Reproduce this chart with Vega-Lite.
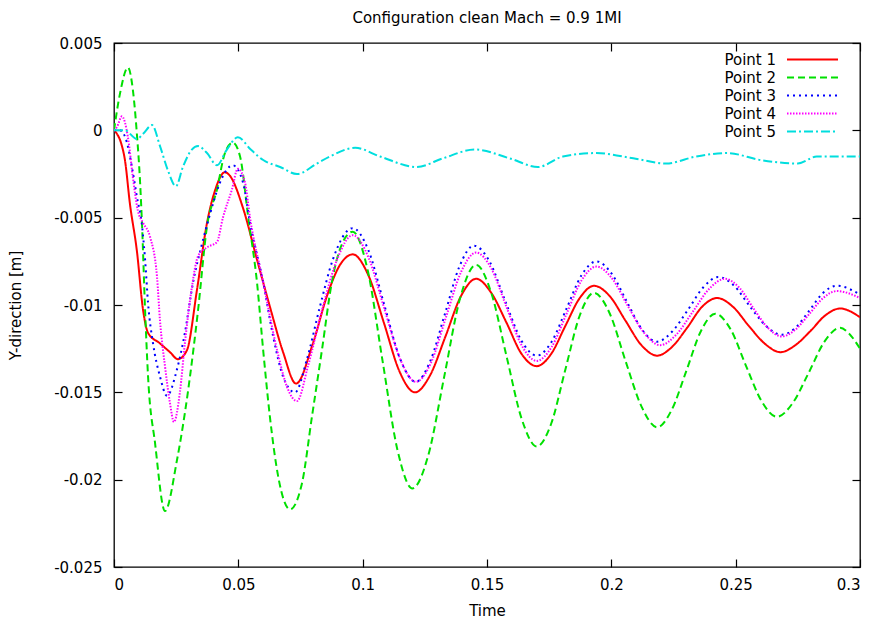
{
  "$schema": "https://vega.github.io/schema/vega-lite/v6.json",
  "width": 746,
  "height": 524,
  "autosize": "none",
  "padding": {"left": 114, "top": 43, "right": 15, "bottom": 51},
  "background": "#ffffff",
  "title": {
    "text": "Configuration clean Mach = 0.9 1MI",
    "font": "DejaVu Sans",
    "fontSize": 15,
    "fontWeight": "normal",
    "color": "#000000",
    "anchor": "middle",
    "frame": "group",
    "baseline": "alphabetic",
    "offset": -2
  },
  "data": {
    "values": [
      {"point": "Point 1", "t": 0, "y": 0},
      {"point": "Point 1", "t": 0.0012, "y": -0.0002},
      {"point": "Point 1", "t": 0.003, "y": -0.0008},
      {"point": "Point 1", "t": 0.0044, "y": -0.0017},
      {"point": "Point 1", "t": 0.0064, "y": -0.0042},
      {"point": "Point 1", "t": 0.0092, "y": -0.0069},
      {"point": "Point 1", "t": 0.0117, "y": -0.0103},
      {"point": "Point 1", "t": 0.0137, "y": -0.0116},
      {"point": "Point 1", "t": 0.0185, "y": -0.0122},
      {"point": "Point 1", "t": 0.0225, "y": -0.0127},
      {"point": "Point 1", "t": 0.0257, "y": -0.0131},
      {"point": "Point 1", "t": 0.0293, "y": -0.0126},
      {"point": "Point 1", "t": 0.0334, "y": -0.0091},
      {"point": "Point 1", "t": 0.0374, "y": -0.0053},
      {"point": "Point 1", "t": 0.0405, "y": -0.0035},
      {"point": "Point 1", "t": 0.0446, "y": -0.0024},
      {"point": "Point 1", "t": 0.0466, "y": -0.0026},
      {"point": "Point 1", "t": 0.052, "y": -0.0045},
      {"point": "Point 1", "t": 0.0575, "y": -0.0074},
      {"point": "Point 1", "t": 0.0627, "y": -0.0101},
      {"point": "Point 1", "t": 0.068, "y": -0.0127},
      {"point": "Point 1", "t": 0.0732, "y": -0.0145},
      {"point": "Point 1", "t": 0.08, "y": -0.0122},
      {"point": "Point 1", "t": 0.0856, "y": -0.0095},
      {"point": "Point 1", "t": 0.0909, "y": -0.0077},
      {"point": "Point 1", "t": 0.096, "y": -0.0071},
      {"point": "Point 1", "t": 0.1023, "y": -0.0083},
      {"point": "Point 1", "t": 0.1085, "y": -0.011},
      {"point": "Point 1", "t": 0.1148, "y": -0.0138},
      {"point": "Point 1", "t": 0.121, "y": -0.015},
      {"point": "Point 1", "t": 0.1272, "y": -0.014},
      {"point": "Point 1", "t": 0.1333, "y": -0.0118},
      {"point": "Point 1", "t": 0.1395, "y": -0.0095},
      {"point": "Point 1", "t": 0.1456, "y": -0.0085},
      {"point": "Point 1", "t": 0.1517, "y": -0.0093},
      {"point": "Point 1", "t": 0.1578, "y": -0.011},
      {"point": "Point 1", "t": 0.1639, "y": -0.0128},
      {"point": "Point 1", "t": 0.17, "y": -0.0135},
      {"point": "Point 1", "t": 0.1758, "y": -0.0128},
      {"point": "Point 1", "t": 0.1815, "y": -0.0112},
      {"point": "Point 1", "t": 0.1873, "y": -0.0096},
      {"point": "Point 1", "t": 0.193, "y": -0.0089},
      {"point": "Point 1", "t": 0.1994, "y": -0.0095},
      {"point": "Point 1", "t": 0.2057, "y": -0.0109},
      {"point": "Point 1", "t": 0.2121, "y": -0.0123},
      {"point": "Point 1", "t": 0.2184, "y": -0.0129},
      {"point": "Point 1", "t": 0.2244, "y": -0.0124},
      {"point": "Point 1", "t": 0.2305, "y": -0.0113},
      {"point": "Point 1", "t": 0.2365, "y": -0.0101},
      {"point": "Point 1", "t": 0.2425, "y": -0.0096},
      {"point": "Point 1", "t": 0.2489, "y": -0.0101},
      {"point": "Point 1", "t": 0.2553, "y": -0.0112},
      {"point": "Point 1", "t": 0.2616, "y": -0.0122},
      {"point": "Point 1", "t": 0.268, "y": -0.0127},
      {"point": "Point 1", "t": 0.274, "y": -0.0123},
      {"point": "Point 1", "t": 0.28, "y": -0.0115},
      {"point": "Point 1", "t": 0.286, "y": -0.0106},
      {"point": "Point 1", "t": 0.292, "y": -0.0102},
      {"point": "Point 1", "t": 0.3, "y": -0.0107},

      {"point": "Point 2", "t": 0, "y": 0},
      {"point": "Point 2", "t": 0.0024, "y": 0.0021},
      {"point": "Point 2", "t": 0.0056, "y": 0.0036},
      {"point": "Point 2", "t": 0.0076, "y": 0.0023},
      {"point": "Point 2", "t": 0.0092, "y": -0.0002},
      {"point": "Point 2", "t": 0.0105, "y": -0.003},
      {"point": "Point 2", "t": 0.0113, "y": -0.0055},
      {"point": "Point 2", "t": 0.0125, "y": -0.0103},
      {"point": "Point 2", "t": 0.0137, "y": -0.0141},
      {"point": "Point 2", "t": 0.0165, "y": -0.0179},
      {"point": "Point 2", "t": 0.0205, "y": -0.0218},
      {"point": "Point 2", "t": 0.0253, "y": -0.0189},
      {"point": "Point 2", "t": 0.0297, "y": -0.015},
      {"point": "Point 2", "t": 0.0338, "y": -0.0103},
      {"point": "Point 2", "t": 0.0374, "y": -0.0055},
      {"point": "Point 2", "t": 0.0414, "y": -0.0034},
      {"point": "Point 2", "t": 0.0446, "y": -0.0013},
      {"point": "Point 2", "t": 0.0478, "y": -0.0007},
      {"point": "Point 2", "t": 0.0507, "y": -0.0015},
      {"point": "Point 2", "t": 0.054, "y": -0.005},
      {"point": "Point 2", "t": 0.0575, "y": -0.0087},
      {"point": "Point 2", "t": 0.06, "y": -0.0126},
      {"point": "Point 2", "t": 0.0627, "y": -0.0164},
      {"point": "Point 2", "t": 0.066, "y": -0.0198},
      {"point": "Point 2", "t": 0.0708, "y": -0.0217},
      {"point": "Point 2", "t": 0.0756, "y": -0.0202},
      {"point": "Point 2", "t": 0.0796, "y": -0.0164},
      {"point": "Point 2", "t": 0.0836, "y": -0.0126},
      {"point": "Point 2", "t": 0.0876, "y": -0.0087},
      {"point": "Point 2", "t": 0.0917, "y": -0.0065},
      {"point": "Point 2", "t": 0.096, "y": -0.0058},
      {"point": "Point 2", "t": 0.102, "y": -0.008},
      {"point": "Point 2", "t": 0.108, "y": -0.0132},
      {"point": "Point 2", "t": 0.114, "y": -0.0183},
      {"point": "Point 2", "t": 0.12, "y": -0.0205},
      {"point": "Point 2", "t": 0.1264, "y": -0.0186},
      {"point": "Point 2", "t": 0.1328, "y": -0.0141},
      {"point": "Point 2", "t": 0.1392, "y": -0.0096},
      {"point": "Point 2", "t": 0.1456, "y": -0.0077},
      {"point": "Point 2", "t": 0.1517, "y": -0.0093},
      {"point": "Point 2", "t": 0.1578, "y": -0.0129},
      {"point": "Point 2", "t": 0.1639, "y": -0.0165},
      {"point": "Point 2", "t": 0.17, "y": -0.0181},
      {"point": "Point 2", "t": 0.1758, "y": -0.0168},
      {"point": "Point 2", "t": 0.1815, "y": -0.0137},
      {"point": "Point 2", "t": 0.1873, "y": -0.0106},
      {"point": "Point 2", "t": 0.193, "y": -0.0093},
      {"point": "Point 2", "t": 0.1994, "y": -0.0105},
      {"point": "Point 2", "t": 0.2057, "y": -0.0132},
      {"point": "Point 2", "t": 0.2121, "y": -0.0158},
      {"point": "Point 2", "t": 0.2184, "y": -0.017},
      {"point": "Point 2", "t": 0.2243, "y": -0.016},
      {"point": "Point 2", "t": 0.2301, "y": -0.0138},
      {"point": "Point 2", "t": 0.236, "y": -0.0115},
      {"point": "Point 2", "t": 0.2418, "y": -0.0105},
      {"point": "Point 2", "t": 0.248, "y": -0.0114},
      {"point": "Point 2", "t": 0.2542, "y": -0.0135},
      {"point": "Point 2", "t": 0.2604, "y": -0.0155},
      {"point": "Point 2", "t": 0.2666, "y": -0.0164},
      {"point": "Point 2", "t": 0.273, "y": -0.0156},
      {"point": "Point 2", "t": 0.2793, "y": -0.0139},
      {"point": "Point 2", "t": 0.2857, "y": -0.0121},
      {"point": "Point 2", "t": 0.292, "y": -0.0113},
      {"point": "Point 2", "t": 0.296, "y": -0.0117},
      {"point": "Point 2", "t": 0.3, "y": -0.0125},

      {"point": "Point 3", "t": 0, "y": 0},
      {"point": "Point 3", "t": 0.0024, "y": 0},
      {"point": "Point 3", "t": 0.0052, "y": -0.0007},
      {"point": "Point 3", "t": 0.0072, "y": -0.0021},
      {"point": "Point 3", "t": 0.0092, "y": -0.0038},
      {"point": "Point 3", "t": 0.0113, "y": -0.0055},
      {"point": "Point 3", "t": 0.0125, "y": -0.0074},
      {"point": "Point 3", "t": 0.0137, "y": -0.0099},
      {"point": "Point 3", "t": 0.0157, "y": -0.0122},
      {"point": "Point 3", "t": 0.0185, "y": -0.0141},
      {"point": "Point 3", "t": 0.0213, "y": -0.0152},
      {"point": "Point 3", "t": 0.0253, "y": -0.0137},
      {"point": "Point 3", "t": 0.0285, "y": -0.0116},
      {"point": "Point 3", "t": 0.0318, "y": -0.0087},
      {"point": "Point 3", "t": 0.0354, "y": -0.0065},
      {"point": "Point 3", "t": 0.0386, "y": -0.0048},
      {"point": "Point 3", "t": 0.0426, "y": -0.003},
      {"point": "Point 3", "t": 0.0478, "y": -0.002},
      {"point": "Point 3", "t": 0.0519, "y": -0.003},
      {"point": "Point 3", "t": 0.0547, "y": -0.0053},
      {"point": "Point 3", "t": 0.06, "y": -0.0087},
      {"point": "Point 3", "t": 0.064, "y": -0.0118},
      {"point": "Point 3", "t": 0.068, "y": -0.0141},
      {"point": "Point 3", "t": 0.0728, "y": -0.015},
      {"point": "Point 3", "t": 0.0776, "y": -0.0131},
      {"point": "Point 3", "t": 0.0828, "y": -0.0101},
      {"point": "Point 3", "t": 0.088, "y": -0.0074},
      {"point": "Point 3", "t": 0.096, "y": -0.0056},
      {"point": "Point 3", "t": 0.1024, "y": -0.0069},
      {"point": "Point 3", "t": 0.1087, "y": -0.01},
      {"point": "Point 3", "t": 0.1151, "y": -0.0131},
      {"point": "Point 3", "t": 0.1214, "y": -0.0144},
      {"point": "Point 3", "t": 0.1272, "y": -0.0132},
      {"point": "Point 3", "t": 0.1331, "y": -0.0105},
      {"point": "Point 3", "t": 0.1389, "y": -0.0078},
      {"point": "Point 3", "t": 0.1447, "y": -0.0066},
      {"point": "Point 3", "t": 0.151, "y": -0.0075},
      {"point": "Point 3", "t": 0.1574, "y": -0.0098},
      {"point": "Point 3", "t": 0.1637, "y": -0.012},
      {"point": "Point 3", "t": 0.17, "y": -0.0129},
      {"point": "Point 3", "t": 0.176, "y": -0.0121},
      {"point": "Point 3", "t": 0.182, "y": -0.0102},
      {"point": "Point 3", "t": 0.188, "y": -0.0083},
      {"point": "Point 3", "t": 0.194, "y": -0.0075},
      {"point": "Point 3", "t": 0.2001, "y": -0.0082},
      {"point": "Point 3", "t": 0.2062, "y": -0.0098},
      {"point": "Point 3", "t": 0.2123, "y": -0.0114},
      {"point": "Point 3", "t": 0.2184, "y": -0.0121},
      {"point": "Point 3", "t": 0.2246, "y": -0.0115},
      {"point": "Point 3", "t": 0.2307, "y": -0.0103},
      {"point": "Point 3", "t": 0.2369, "y": -0.009},
      {"point": "Point 3", "t": 0.243, "y": -0.0084},
      {"point": "Point 3", "t": 0.2494, "y": -0.0089},
      {"point": "Point 3", "t": 0.2558, "y": -0.0101},
      {"point": "Point 3", "t": 0.2622, "y": -0.0112},
      {"point": "Point 3", "t": 0.2686, "y": -0.0117},
      {"point": "Point 3", "t": 0.2741, "y": -0.0113},
      {"point": "Point 3", "t": 0.2797, "y": -0.0103},
      {"point": "Point 3", "t": 0.2852, "y": -0.0093},
      {"point": "Point 3", "t": 0.2907, "y": -0.0089},
      {"point": "Point 3", "t": 0.3, "y": -0.0094},

      {"point": "Point 4", "t": 0, "y": 0},
      {"point": "Point 4", "t": 0.0012, "y": 0.0002},
      {"point": "Point 4", "t": 0.0032, "y": 0.0008},
      {"point": "Point 4", "t": 0.0056, "y": -0.0004},
      {"point": "Point 4", "t": 0.0076, "y": -0.0027},
      {"point": "Point 4", "t": 0.0096, "y": -0.0046},
      {"point": "Point 4", "t": 0.0117, "y": -0.0053},
      {"point": "Point 4", "t": 0.0145, "y": -0.0061},
      {"point": "Point 4", "t": 0.0173, "y": -0.0084},
      {"point": "Point 4", "t": 0.0185, "y": -0.0109},
      {"point": "Point 4", "t": 0.0205, "y": -0.0135},
      {"point": "Point 4", "t": 0.0225, "y": -0.0156},
      {"point": "Point 4", "t": 0.0241, "y": -0.0167},
      {"point": "Point 4", "t": 0.0265, "y": -0.015},
      {"point": "Point 4", "t": 0.0285, "y": -0.0122},
      {"point": "Point 4", "t": 0.0313, "y": -0.009},
      {"point": "Point 4", "t": 0.0338, "y": -0.0072},
      {"point": "Point 4", "t": 0.0374, "y": -0.0067},
      {"point": "Point 4", "t": 0.0414, "y": -0.0064},
      {"point": "Point 4", "t": 0.0438, "y": -0.005},
      {"point": "Point 4", "t": 0.0474, "y": -0.0034},
      {"point": "Point 4", "t": 0.0498, "y": -0.0022},
      {"point": "Point 4", "t": 0.0527, "y": -0.003},
      {"point": "Point 4", "t": 0.0547, "y": -0.005},
      {"point": "Point 4", "t": 0.06, "y": -0.0087},
      {"point": "Point 4", "t": 0.0656, "y": -0.0126},
      {"point": "Point 4", "t": 0.0696, "y": -0.0147},
      {"point": "Point 4", "t": 0.0736, "y": -0.0155},
      {"point": "Point 4", "t": 0.078, "y": -0.0135},
      {"point": "Point 4", "t": 0.084, "y": -0.0101},
      {"point": "Point 4", "t": 0.0897, "y": -0.0074},
      {"point": "Point 4", "t": 0.096, "y": -0.006},
      {"point": "Point 4", "t": 0.1024, "y": -0.0073},
      {"point": "Point 4", "t": 0.1087, "y": -0.0102},
      {"point": "Point 4", "t": 0.1151, "y": -0.0131},
      {"point": "Point 4", "t": 0.1214, "y": -0.0144},
      {"point": "Point 4", "t": 0.1275, "y": -0.0133},
      {"point": "Point 4", "t": 0.1335, "y": -0.0107},
      {"point": "Point 4", "t": 0.1396, "y": -0.0081},
      {"point": "Point 4", "t": 0.1456, "y": -0.007},
      {"point": "Point 4", "t": 0.1517, "y": -0.0079},
      {"point": "Point 4", "t": 0.1578, "y": -0.0101},
      {"point": "Point 4", "t": 0.1639, "y": -0.0123},
      {"point": "Point 4", "t": 0.17, "y": -0.0132},
      {"point": "Point 4", "t": 0.176, "y": -0.0124},
      {"point": "Point 4", "t": 0.182, "y": -0.0105},
      {"point": "Point 4", "t": 0.188, "y": -0.0086},
      {"point": "Point 4", "t": 0.194, "y": -0.0078},
      {"point": "Point 4", "t": 0.2004, "y": -0.0085},
      {"point": "Point 4", "t": 0.2068, "y": -0.0101},
      {"point": "Point 4", "t": 0.2132, "y": -0.0116},
      {"point": "Point 4", "t": 0.2196, "y": -0.0123},
      {"point": "Point 4", "t": 0.2261, "y": -0.0117},
      {"point": "Point 4", "t": 0.2327, "y": -0.0104},
      {"point": "Point 4", "t": 0.2392, "y": -0.0091},
      {"point": "Point 4", "t": 0.2457, "y": -0.0085},
      {"point": "Point 4", "t": 0.2514, "y": -0.009},
      {"point": "Point 4", "t": 0.2572, "y": -0.0102},
      {"point": "Point 4", "t": 0.2629, "y": -0.0113},
      {"point": "Point 4", "t": 0.2686, "y": -0.0118},
      {"point": "Point 4", "t": 0.2741, "y": -0.0114},
      {"point": "Point 4", "t": 0.2797, "y": -0.0105},
      {"point": "Point 4", "t": 0.2852, "y": -0.0096},
      {"point": "Point 4", "t": 0.2907, "y": -0.0092},
      {"point": "Point 4", "t": 0.3, "y": -0.0096},

      {"point": "Point 5", "t": 0, "y": 0},
      {"point": "Point 5", "t": 0.0044, "y": 0},
      {"point": "Point 5", "t": 0.0092, "y": -0.0005},
      {"point": "Point 5", "t": 0.0117, "y": -0.0002},
      {"point": "Point 5", "t": 0.0153, "y": 0.0003},
      {"point": "Point 5", "t": 0.0185, "y": -0.0009},
      {"point": "Point 5", "t": 0.0217, "y": -0.0023},
      {"point": "Point 5", "t": 0.0249, "y": -0.0032},
      {"point": "Point 5", "t": 0.0277, "y": -0.0021},
      {"point": "Point 5", "t": 0.0313, "y": -0.0011},
      {"point": "Point 5", "t": 0.0338, "y": -0.0009},
      {"point": "Point 5", "t": 0.0374, "y": -0.0013},
      {"point": "Point 5", "t": 0.0414, "y": -0.002},
      {"point": "Point 5", "t": 0.0454, "y": -0.0011},
      {"point": "Point 5", "t": 0.0498, "y": -0.0004},
      {"point": "Point 5", "t": 0.055, "y": -0.0011},
      {"point": "Point 5", "t": 0.06, "y": -0.0017},
      {"point": "Point 5", "t": 0.0668, "y": -0.0021},
      {"point": "Point 5", "t": 0.0736, "y": -0.0025},
      {"point": "Point 5", "t": 0.0816, "y": -0.0019},
      {"point": "Point 5", "t": 0.0868, "y": -0.0015},
      {"point": "Point 5", "t": 0.097, "y": -0.001},
      {"point": "Point 5", "t": 0.107, "y": -0.0015},
      {"point": "Point 5", "t": 0.1218, "y": -0.0021},
      {"point": "Point 5", "t": 0.1323, "y": -0.0016},
      {"point": "Point 5", "t": 0.1452, "y": -0.0011},
      {"point": "Point 5", "t": 0.159, "y": -0.0016},
      {"point": "Point 5", "t": 0.1705, "y": -0.0021},
      {"point": "Point 5", "t": 0.1805, "y": -0.0015},
      {"point": "Point 5", "t": 0.194, "y": -0.0013},
      {"point": "Point 5", "t": 0.2088, "y": -0.0016},
      {"point": "Point 5", "t": 0.222, "y": -0.0019},
      {"point": "Point 5", "t": 0.234, "y": -0.0015},
      {"point": "Point 5", "t": 0.2465, "y": -0.0013},
      {"point": "Point 5", "t": 0.26, "y": -0.0017},
      {"point": "Point 5", "t": 0.275, "y": -0.0019},
      {"point": "Point 5", "t": 0.2826, "y": -0.0015},
      {"point": "Point 5", "t": 0.3, "y": -0.0015}
    ]
  },
  "layer": [
    {
      "mark": {"type": "line", "interpolate": "monotone", "strokeWidth": 2, "clip": true},
      "encoding": {
        "x": {
          "field": "t", "type": "quantitative",
          "scale": {"domain": [0, 0.3], "nice": false, "zero": false},
          "axis": {
            "orient": "bottom",
            "values": [0, 0.05, 0.1, 0.15, 0.2, 0.25, 0.3],
            "format": "~g",
            "labelPadding": 18,
            "title": "Time",
            "titleX": 373, "titleY": 43,
            "titleAlign": "center", "titleBaseline": "middle"
          }
        },
        "y": {
          "field": "y", "type": "quantitative",
          "scale": {"domain": [-0.025, 0.005], "nice": false, "zero": false},
          "axis": {
            "orient": "left",
            "values": [0.005, 0, -0.005, -0.01, -0.015, -0.02, -0.025],
            "format": "~g",
            "labelPadding": 20,
            "title": "Y-direction [m]",
            "titleAngle": -90,
            "titleX": -99, "titleY": 262,
            "titleAlign": "center", "titleBaseline": "middle"
          }
        },
        "color": {
          "field": "point", "type": "nominal",
          "scale": {
            "domain": ["Point 1", "Point 2", "Point 3", "Point 4", "Point 5"],
            "range": ["#ff0000", "#00e000", "#0000ff", "#ff00ff", "#00dede"]
          },
          "legend": {
            "title": null,
            "orient": "none",
            "legendX": 689,
            "legendY": 7,
            "symbolType": "M-3,0H3",
            "symbolSize": 289,
            "symbolStrokeWidth": 2,
            "labelAlign": "right",
            "labelOffset": -46,
            "labelFontSize": 15,
            "labelFont": "DejaVu Sans",
            "labelColor": "#000000",
            "rowPadding": -2.3,
            "padding": 0
          }
        },
        "strokeDash": {
          "field": "point", "type": "nominal",
          "scale": {
            "domain": ["Point 1", "Point 2", "Point 3", "Point 4", "Point 5"],
            "range": [[1, 0], [7, 4], [2, 4], [1.5, 1.5], [9, 3, 2, 3]]
          },
          "legend": null
        }
      }
    },
    {
      "mark": {"type": "point", "opacity": 0},
      "encoding": {
        "x": {
          "field": "t", "type": "quantitative",
          "axis": {"orient": "top", "values": [0, 0.05, 0.1, 0.15, 0.2, 0.25, 0.3], "labels": false, "title": null}
        },
        "y": {
          "field": "y", "type": "quantitative",
          "axis": {"orient": "right", "values": [0.005, 0, -0.005, -0.01, -0.015, -0.02, -0.025], "labels": false, "title": null}
        }
      }
    }
  ],
  "resolve": {"axis": {"x": "independent", "y": "independent"}},
  "config": {
    "font": "DejaVu Sans",
    "locale": {
      "number": {"decimal": ".", "thousands": ",", "grouping": [3], "currency": ["$", ""], "minus": "-"}
    },
    "view": {"stroke": "#000000", "strokeWidth": 1.3},
    "axis": {
      "grid": false,
      "domain": false,
      "ticks": true,
      "tickColor": "#000000",
      "tickWidth": 1.2,
      "tickSize": -8,
      "labelFont": "DejaVu Sans",
      "labelFontSize": 15,
      "labelColor": "#000000",
      "titleFont": "DejaVu Sans",
      "titleFontSize": 15,
      "titleFontWeight": "normal",
      "titleColor": "#000000"
    }
  }
}
